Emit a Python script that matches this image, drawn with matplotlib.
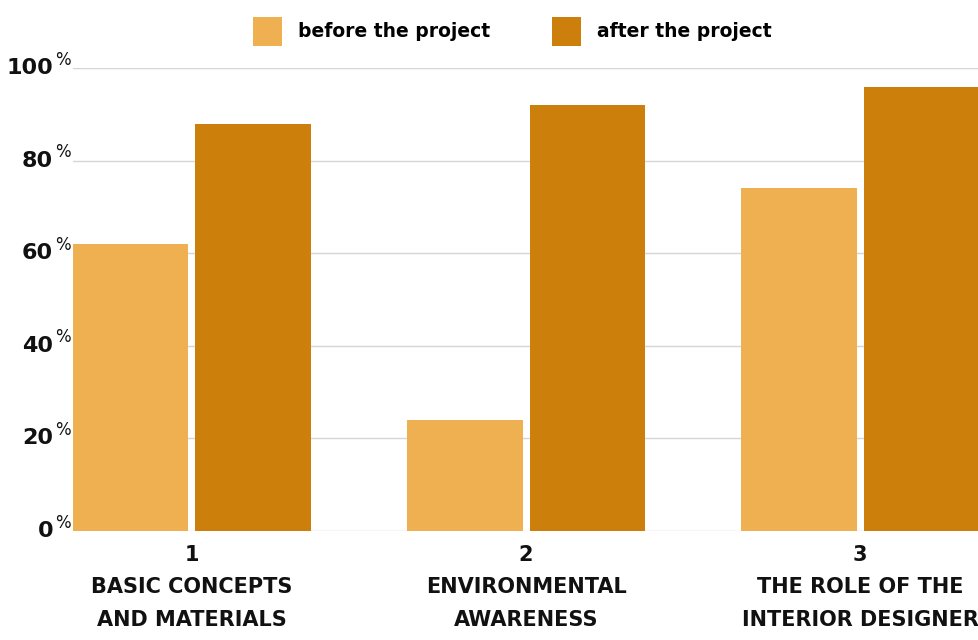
import matplotlib
matplotlib.use("Agg")
from matplotlib import pyplot as plt
from matplotlib import transforms
import numpy as np

plt.rcParams['font.family'] = ['DejaVu Sans']
plt.rcParams['font.weight'] = 'bold'

groups = [1, 2, 3]
group_names = ["BASIC CONCEPTS\nAND MATERIALS",
               "ENVIRONMENTAL\nAWARENESS",
               "THE ROLE OF THE\nINTERIOR DESIGNER"]
before = [62, 24, 74]
after = [88, 92, 96]
yticks = [0, 20, 40, 60, 80, 100]

before_colour = "#EFB052"
after_colour = "#CC7F0A"

fig = plt.figure(figsize=(9.79, 6.4), dpi=100)
ax = fig.add_axes([0.0746, 0.1703, 1 - 0.0746, 0.89375 - 0.1703])

x = np.array(groups, dtype=float)
width = 0.347
off = 0.184
b1 = ax.bar(x - off, before, width, color=before_colour, label="before the project", zorder=2)
b2 = ax.bar(x + off, after, width, color=after_colour, label="after the project", zorder=2)

ax.set_xlim(0.644, 3.356)
ax.set_ylim(0, 100)
ax.set_yticks(yticks)
ax.yaxis.grid(True, color="#d6d6d6", linewidth=1.0, zorder=0)
ax.set_yticklabels([])
ax.tick_params(axis="both", length=0)
for s in ax.spines.values():
    s.set_visible(False)

# y labels with a raised percent sign
trans = transforms.blended_transform_factory(ax.transAxes, ax.transData)
for t in yticks:
    ax.text(-0.022, t, str(t), transform=trans, ha="right", va="center",
            fontsize=16, color="#111111")
    ax.text(-0.020, t + 1.8, "%", transform=trans, ha="left", va="center",
            fontsize=12, color="#111111", fontweight="normal")

ax.set_xticks(groups)
ax.set_xticklabels([f"{g}\n{n}" for g, n in zip(groups, group_names)],
                   fontsize=15, linespacing=1.78, color="#111111")
ax.tick_params(axis="x", pad=10)

fig.legend(handles=[b1, b2], loc="upper center", bbox_to_anchor=(0.523, 1.0),
           ncol=2, frameon=False, fontsize=13.5, handlelength=1.55, handleheight=2.0,
           handletextpad=0.85, columnspacing=3.3)

fig.savefig("out.png", dpi=100, facecolor="white")
